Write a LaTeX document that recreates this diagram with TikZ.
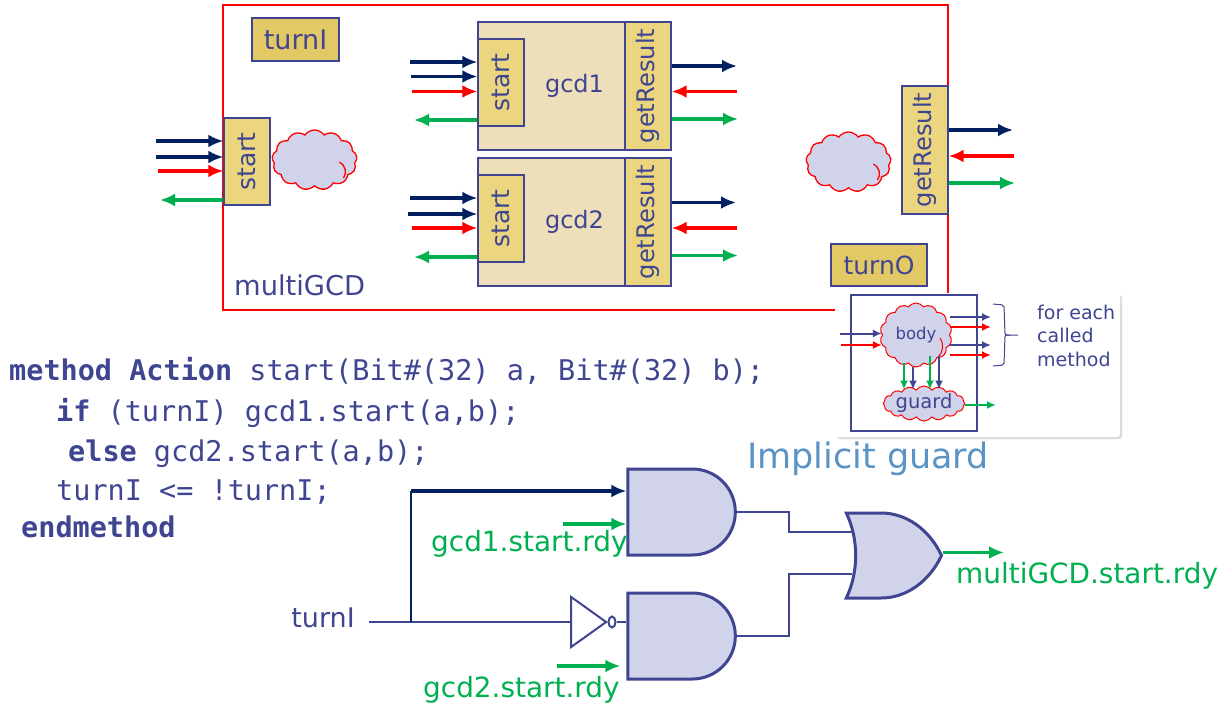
\documentclass[tikz,border=0pt]{standalone}
\usepackage{fontspec}
\setmainfont{DejaVu Sans}
\setmonofont{DejaVu Sans Mono}
\usepackage{xcolor}
\usetikzlibrary{positioning,shadows,arrows.meta,shapes.symbols,shapes.geometric,shapes.gates.logic.US,calc}
\definecolor{inkblue}{HTML}{3F4590}
\definecolor{navy}{HTML}{002060}
\definecolor{wirered}{HTML}{FF0000}
\definecolor{wiregreen}{HTML}{00B050}
\definecolor{gatefill}{HTML}{D0D3EA}
\definecolor{portfill}{HTML}{EBD67F}
\definecolor{turnfill}{HTML}{E3C866}
\definecolor{modfill}{HTML}{EEDFBB}
\definecolor{guardblue}{HTML}{5B93C5}

\begin{document}
\begin{tikzpicture}[
  x=1pt,y=-1pt,
  font=\fontsize{25}{30}\selectfont,
  text=inkblue,
  >={Latex[length=15pt,width=13pt]},
  portbox/.style={draw=inkblue,line width=1.4pt,fill=portfill,minimum width=46pt,inner sep=0pt},
  resultbox/.style={portbox,minimum height=128pt,font=\fontsize{24.2}{30}\selectfont},
  turnbox/.style={draw=inkblue,line width=1.4pt,fill=turnfill,inner sep=0pt},
  modbox/.style={draw=inkblue,line width=1.4pt,fill=modfill,minimum width=193pt,minimum height=128pt,font=\fontsize{24}{30}\selectfont},
  blob/.style={cloud,cloud puffs=13,cloud puff arc=110,cloud ignores aspect,draw=wirered,line width=1.3pt,fill=gatefill,inner sep=0pt},
  navywire/.style={draw=navy,line width=3.1pt},
  redwire/.style={draw=wirered,line width=3.1pt},
  greenwire/.style={draw=wiregreen,line width=3.1pt},
  gatebox/.style={draw=inkblue,line width=3pt,fill=gatefill,logic gate inputs=nn},
  signal/.style={draw=inkblue,line width=1.8pt},
  rdylabel/.style={anchor=base west,inner sep=0pt,text=wiregreen,font=\fontsize{27.9}{32}\selectfont},
  codeline/.style={anchor=base west,inner sep=0pt,font=\ttfamily\fontsize{28.5}{32}\selectfont},
  smallnote/.style={anchor=base west,inner sep=0pt,font=\fontsize{19}{22}\selectfont},
  tinyin/.style={line width=2pt,>={Latex[length=9pt,width=8pt]}},
]
\useasboundingbox (0,0) rectangle (1224,704);

% enclosing module
\node[draw=wirered,line width=1.6pt,minimum width=725pt,minimum height=305pt,inner sep=0pt] (multi) at (585.5,157.5) {};
\node[anchor=base west,inner sep=0pt,font=\fontsize{27.3}{30}\selectfont] (multiname) at (234,295) {multiGCD};
\node[turnbox,minimum width=87pt,minimum height=43pt,font=\fontsize{27}{30}\selectfont] (turnI) at (295.5,39.5) {turnI};
\node[turnbox,minimum width=96pt,minimum height=42pt] (turnO) at (879,265) {turnO};

% submodules
\node[modbox] (gcdA) at (574.5,86) {gcd1};
\node[modbox] (gcdB) at (574.5,222) {gcd2};
\node[portbox,minimum height=87pt] (startA) at (501,82.5) {\rotatebox{90}{start}};
\node[portbox,minimum height=87pt] (startB) at (501,218.5) {\rotatebox{90}{start}};
\node[resultbox] (resultA) at (648,86) {\rotatebox{90}{getResult}};
\node[resultbox] (resultB) at (648,222) {\rotatebox{90}{getResult}};
\node[portbox,minimum height=87pt] (startTop) at (247,161.5) {\rotatebox{90}{start}};
\node[resultbox] (resultTop) at (925,150) {\rotatebox{90}{getResult}};

% clouds
\node[blob,minimum width=85pt,minimum height=60pt] (cloudL) at (314.5,160) {};
\node[blob,minimum width=85pt,minimum height=60pt] (cloudR) at (848.5,162) {};
\foreach \c in {cloudL,cloudR}
  \draw[draw=wirered,line width=1.3pt] ([shift={(25pt,-2pt)}]\c.center) to[bend left=50] ([shift={(29pt,-18pt)}]\c.center);

% method ports
\foreach \port/\side/\wire/\dir/\y/\xfree in {
  startTop/west/navywire/->/141/156, startTop/west/navywire/->/157/156,
  startTop/west/redwire/->/171/158, startTop/west/greenwire/<-/200/160,
  startA/west/navywire/->/62/410, startA/west/navywire/->/76.5/411,
  startA/west/redwire/->/91.5/412, startA/west/greenwire/<-/120/414,
  startB/west/navywire/->/198/410, startB/west/navywire/->/214/408,
  startB/west/redwire/->/228/412, startB/west/greenwire/<-/257/414,
  resultA/east/navywire/<-/66/737, resultA/east/redwire/->/91.5/737,
  resultA/east/greenwire/<-/119/738,
  resultB/east/navywire/<-/202.5/736, resultB/east/redwire/->/228/737,
  resultB/east/greenwire/<-/255.5/738,
  resultTop/east/navywire/<-/130/1013, resultTop/east/redwire/->/156/1014,
  resultTop/east/greenwire/<-/183/1015}
  {
  \coordinate (free) at (\xfree,\y);
  \draw[\wire,\dir] (free) -- (free -| \port.\side);
  }

% inset
\node[fill=white,rounded corners=3pt,drop shadow={shadow xshift=2pt,shadow yshift=-2pt,opacity=0.3},minimum width=285pt,minimum height=144pt,inner sep=0pt] (inset) at (977.5,365) {};
\node[draw=inkblue,line width=1.1pt,minimum width=126pt,minimum height=136pt,inner sep=0pt] (insetbox) at (914,363) {};
\node[blob,cloud puffs=14,line width=1pt,minimum width=72pt,minimum height=64pt,font=\fontsize{16.5}{20}\selectfont] (body) at (916,335) {body};
\draw[draw=wirered,line width=1pt] ([shift={(24pt,-3pt)}]body.center) to[bend left=40] ([shift={(22pt,-22pt)}]body.center);
\node[blob,cloud puffs=16,line width=1pt,minimum width=66pt,minimum height=35pt,font=\fontsize{19.5}{23}\selectfont] (guard) at (924,403.5) {guard};
\foreach \col/\y/\xfree in {inkblue/333.5/840, wirered/345/841}
  {
  \coordinate (free) at (\xfree,\y);
  \draw[tinyin,draw=\col,->] (free) -- (free -| body.west);
  }
\foreach \col/\y/\xfree in {inkblue/317/991, wirered/327/991, inkblue/345/991, wirered/355/991}
  {
  \coordinate (free) at (\xfree,\y);
  \draw[tinyin,draw=\col,<-] (free) -- (free -| body.east);
  }
\foreach \col/\dx/\dy in {wiregreen/-12/5, inkblue/-3/1, wiregreen/14/12, inkblue/23/12}
  \draw[tinyin,draw=\col,->] ([shift={(\dx pt,\dy pt)}]body.south) -- ([xshift=\dx pt,yshift=-4pt]body.south |- guard.north);
\coordinate (guardout) at (996,405);
\draw[tinyin,draw=wiregreen,<-] (guardout) -- (guardout -| guard.east);
\coordinate (braceA) at (993,304);
\coordinate (braceB) at (993,366);
\draw[draw=inkblue,line width=1pt,rounded corners=2pt] (braceA) -- ++(11,1) -- ++(1,30) -- ++(13,0);
\draw[draw=inkblue,line width=1pt,rounded corners=2pt] (braceB) -- ++(11,-1) -- ++(1,-30) -- ++(5,0);
\node[smallnote] (noteA) at (1037,319) {for each};
\node[smallnote] (noteB) at (1037,342.5) {called};
\node[smallnote] (noteC) at (1037,366) {method};

% code
\node[codeline] (codeA) at (9,380) {\textbf{method Action} start(Bit\#(32) a, Bit\#(32) b);};
\node[codeline] (codeB) at (56,421) {\textbf{if} (turnI) gcd1.start(a,b);};
\node[codeline] (codeC) at (68,461) {\textbf{else} gcd2.start(a,b);};
\node[codeline] (codeD) at (56,500) {turnI <= !turnI;};
\node[codeline] (codeE) at (21,537) {\textbf{endmethod}};

% gates
\node[anchor=base west,inner sep=0pt,text=guardblue,font=\fontsize{35}{40}\selectfont] (implicit) at (747,468) {Implicit guard};
\coordinate (orinA) at (852,532);
\coordinate (orinB) at (852,574);
\node[and gate US,gatebox,minimum width=107pt,minimum height=86pt,inner sep=0pt] (andA) at (678,512) {};
\node[and gate US,gatebox,minimum width=107pt,minimum height=86pt,inner sep=0pt] (andB) at (678,636) {};
\node[or gate US,gatebox,xscale=0.82,minimum width=78pt,minimum height=85pt,inner sep=0pt] (orC) at (887,555.5) {};
\node[isosceles triangle,isosceles triangle stretches,draw=inkblue,line width=2pt,fill=white,minimum width=50pt,minimum height=35pt,inner sep=0pt] (notC) at (584,622) {};
\node[ellipse,draw=inkblue,line width=2pt,fill=white,minimum width=7pt,minimum height=11pt,inner sep=0pt] (bubble) at (612,622) {};
\draw[signal] (andA.east) -- ++(52,0) |- (orinA);
\draw[signal] (andB.east) -- ++(52,0) |- (orinB);
\node[anchor=base east,inner sep=0pt,font=\fontsize{27}{30}\selectfont] (turnin) at (355,627) {turnI};
\coordinate (tap) at (411,622);
\draw[signal] (turnin.east |- tap) ++(14,0) -- (notC.west |- tap);
\draw[signal] (bubble.east) -- (bubble.east -| andB.west);
\coordinate (topbend) at (411,491);
\draw[draw=navy,line width=1.8pt] (tap) -- (topbend);
\draw[navywire,->] (topbend) -- (topbend -| andA.west);
\coordinate (rdyA) at (563,524);
\coordinate (rdyB) at (557,666);
\coordinate (rdyC) at (1004,552.5);
\draw[greenwire,->] (rdyA) -- (rdyA -| andA.west);
\draw[greenwire,->,shorten >=6pt] (rdyB) -- (rdyB -| andB.west);
\draw[greenwire,<-] (rdyC) -- (rdyC -| orC.east);
\node[rdylabel] (labelA) at (431,551) {gcd1.start.rdy};
\node[rdylabel] (labelB) at (423,697) {gcd2.start.rdy};
\node[rdylabel] (labelC) at (956,583) {multiGCD.start.rdy};
\end{tikzpicture}
\end{document}
